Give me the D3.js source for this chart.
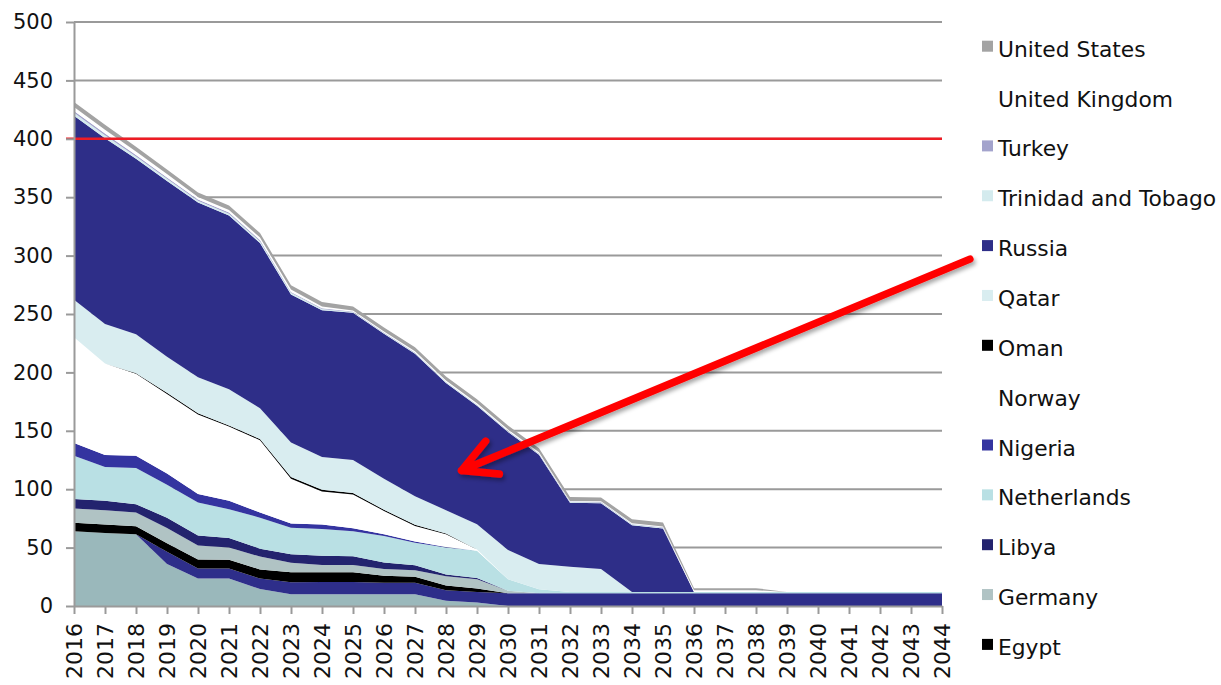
<!DOCTYPE html>
<meta charset="utf-8">
<head>
  <title>Stacked area by country</title>
</head>

<style>
  body { margin: 0; background: #fff; }
  text { font-family: "DejaVu Sans", Verdana, sans-serif; fill: #111; }
</style>

<body>
  <svg width="1221" height="685"></svg>

  <script src="https://cdn.jsdelivr.net/npm/d3@7"></script>
  <script>

var years = [2016, 2017, 2018, 2019, 2020, 2021, 2022, 2023, 2024, 2025, 2026, 2027, 2028, 2029, 2030,
             2031, 2032, 2033, 2034, 2035, 2036, 2037, 2038, 2039, 2040, 2041, 2042, 2043, 2044];

// two bottom series are cut off the legend in the original
var otherBottom = [64, 62.5, 61.5, 36, 23.5, 23.5, 14.5, 10, 10, 10, 10, 10, 4.5, 3, 0, 0, 0, 0, 0, 0, 0, 0, 0, 0, 0, 0, 0, 0, 0];
var otherSecond = [0, 0, 0, 10.5, 8.5, 8.5, 9, 10.3, 10.5, 10.5, 10, 10, 9, 9, 11, 11, 11, 11, 11, 11, 11, 11, 11, 11, 11, 11, 11, 11, 11];
var egypt       = [7.2, 7.3, 6.8, 7.3, 7.8, 7.5, 7.8, 8.7, 8.5, 8.5, 6, 5, 4, 3, 0, 0, 0, 0, 0, 0, 0, 0, 0, 0, 0, 0, 0, 0, 0];
var germany     = [12.2, 12.2, 11.7, 13, 12, 10.5, 11, 8, 6, 6, 5.6, 5.6, 8, 8, 2, 0, 0, 0, 0, 0, 0, 0, 0, 0, 0, 0, 0, 0, 0];
var libya       = [8.2, 8.1, 7.2, 8.7, 8.5, 8.2, 6.8, 7.3, 8, 7.7, 5.7, 4.2, 1.5, 1, 0, 0, 0, 0, 0, 0, 0, 0, 0, 0, 0, 0, 0, 0, 0];
var netherlands = [37, 29, 31, 28.3, 28.4, 24.6, 26.5, 22.6, 23, 21.3, 22.6, 19.4, 23, 23.2, 10, 3.3, 1, 1, 1, 1, 1, 1, 1, 1, 1, 1, 1, 1, 1];
var nigeria     = [11, 10.2, 10.5, 9.6, 7.2, 7.3, 4.4, 3.7, 3.7, 2.5, 1.5, 1, 0.5, 0, 0, 0, 0, 0, 0, 0, 0, 0, 0, 0, 0, 0, 0, 0, 0];
var norway      = [90.5, 78.3, 70.1, 68.2, 68.1, 63.5, 61.9, 38.4, 28.3, 29, 20, 13.4, 11, 1.2, 0, 0, 0, 0, 0, 0, 0, 0, 0, 0, 0, 0, 0, 0, 0];
var oman        = [0, 0, 0.5, 1, 1, 1, 1, 1.5, 1.5, 1.2, 1, 1, 0.5, 0, 0, 0, 0, 0, 0, 0, 0, 0, 0, 0, 0, 0, 0, 0, 0];
var qatar       = [32, 33.8, 33.3, 30.9, 30.9, 31, 26.5, 29.5, 28, 28.3, 26.6, 24.4, 20, 21.6, 25, 21.7, 21.6, 19.6, 0, 0, 0, 0, 0, 0, 0, 0, 0, 0, 0];
var russia      = [157.6, 159.1, 150.3, 150.3, 149.6, 148.7, 141.4, 126.6, 125.8, 126, 124, 122, 109, 101.5, 101, 93.5, 54.7, 56.4, 57.2, 54.4, 0, 0, 0, 0, 0, 0, 0, 0, 0];
var trinidad    = [2.5, 2.5, 2, 2, 1.5, 1.5, 1.5, 1.5, 1, 0.7, 0.7, 0.7, 0.7, 0.7, 0.7, 0.7, 0.7, 0.7, 0.7, 0.7, 0, 0, 0, 0, 0, 0, 0, 0, 0];
var turkey      = [1.5, 1.5, 1.2, 1, 1, 1, 1, 0.8, 0.6, 0.4, 0.4, 0.4, 0.4, 0.4, 0.4, 0.4, 0.4, 0.4, 0.4, 0.4, 0, 0, 0, 0, 0, 0, 0, 0, 0];
var uk          = [3.5, 3.3, 3, 3, 2.2, 2.2, 2.2, 2, 1.6, 1, 1, 1, 1, 1, 1, 1, 0.6, 0.6, 0.6, 0.6, 1.5, 1.5, 1.5, 0, 0, 0, 0, 0, 0];
var us          = [4.3, 4.2, 4, 4, 3.8, 3.8, 3.8, 3.7, 3.8, 3.4, 3.4, 3.4, 3.4, 3.4, 3.4, 3.4, 3.3, 3.3, 3.3, 3.3, 1.8, 1.8, 1.8, 0, 0, 0, 0, 0, 0];

var yTicks = [0, 50, 100, 150, 200, 250, 300, 350, 400, 450, 500];
var limitValue = 400;
var arrowFrom = [2044.9, 297];
var arrowTo = [2028.5, 116];

// bottom to top
var series = [
  {name: "otherBottom", values: otherBottom, color: "#9ab8bb", legend: false},
  {name: "otherSecond", values: otherSecond, color: "#2e2e8a", legend: false},
  {name: "Egypt", values: egypt, color: "#000000", legend: true},
  {name: "Germany", values: germany, color: "#b0c3c4", legend: true},
  {name: "Libya", values: libya, color: "#23236e", legend: true},
  {name: "Netherlands", values: netherlands, color: "#b9e0e4", legend: true},
  {name: "Nigeria", values: nigeria, color: "#3434a0", legend: true},
  {name: "Norway", values: norway, color: "#ffffff", legend: true},
  {name: "Oman", values: oman, color: "#000000", legend: true},
  {name: "Qatar", values: qatar, color: "#d9edf0", legend: true},
  {name: "Russia", values: russia, color: "#2e2e88", legend: true},
  {name: "Trinidad and Tobago", values: trinidad, color: "#d4ebee", legend: true},
  {name: "Turkey", values: turkey, color: "#a3a3cc", legend: true},
  {name: "United Kingdom", values: uk, color: "#ffffff", legend: true},
  {name: "United States", values: us, color: "#a3a3a3", legend: true}
];

var rows = years.map(function(yr, i){
  var row = {year: yr};
  series.forEach(function(s){ row[s.name] = s.values[i]; });
  return row;
});

var svg = d3.select("svg");

var x = d3.scaleLinear().domain([years[0], years[years.length-1]]).range([74, 942]);
var y = d3.scaleLinear().domain([0, 500]).range([606, 22]);

// gridlines
svg.append("g")
  .selectAll("line")
  .data(yTicks.filter(function(d){ return d > 0; }))
  .enter().append("line")
  .attr("x1", x.range()[0]).attr("x2", x.range()[1])
  .attr("y1", function(d){ return y(d); }).attr("y2", function(d){ return y(d); })
  .style("stroke", "#9a9a9a")
  .style("stroke-width", 2);

var stack = d3.stack().keys(series.map(function(s){ return s.name; }));
var layers = stack(rows);

var area = d3.area()
  .x(function(d){ return x(d.data.year); })
  .y0(function(d){ return y(d[0]); })
  .y1(function(d){ return y(d[1]); });

svg.append("g")
  .selectAll("path")
  .data(layers)
  .enter().append("path")
  .attr("d", area)
  .style("fill", function(d, i){ return series[i].color; })
  .style("stroke", "none");

// red limit line
svg.append("line")
  .attr("x1", 66).attr("x2", x.range()[1])
  .attr("y1", y(limitValue)).attr("y2", y(limitValue))
  .style("stroke", "#ee1c24")
  .style("stroke-width", 2.5);

// axes
var yAxis = svg.append("g")
  .attr("transform", "translate(" + x.range()[0] + ",0)")
  .call(d3.axisLeft(y).tickValues(yTicks).tickSizeInner(8).tickSizeOuter(0).tickPadding(13));

var xAxis = svg.append("g")
  .attr("transform", "translate(0," + y(0) + ")")
  .call(d3.axisBottom(x).tickValues(years).tickFormat(d3.format("d")).tickSizeInner(8).tickSizeOuter(0));

[yAxis, xAxis].forEach(function(g){
  g.select(".domain").style("stroke", "#9a9a9a").style("stroke-width", 2);
  g.selectAll(".tick line").style("stroke", "#9a9a9a").style("stroke-width", 2);
});

yAxis.selectAll("text")
  .style("font-size", "21px")
  .style("font-family", "DejaVu Sans")
  .attr("fill", "#111");

xAxis.selectAll("text")
  .attr("transform", "rotate(-90)")
  .attr("x", -17).attr("y", 0).attr("dy", "0.36em")
  .style("text-anchor", "end")
  .style("font-size", "22px")
  .style("font-family", "DejaVu Sans")
  .attr("fill", "#111");

// legend, top series first
var legendItems = series.filter(function(s){ return s.legend; }).reverse();
var legend = svg.append("g")
  .selectAll("g")
  .data(legendItems)
  .enter().append("g")
  .attr("transform", function(d, i){ return "translate(982," + (56.7 + i*49.85) + ")"; });

legend.append("rect")
  .attr("x", 0).attr("y", -16)
  .attr("width", 11).attr("height", 11)
  .style("fill", function(d){ return d.color; });

legend.append("text")
  .attr("x", 16).attr("y", 0)
  .style("font-size", "21.8px")
  .text(function(d){ return d.name; });

// arrow annotation
var defs = svg.append("defs");
var f = defs.append("filter").attr("id", "shadow").attr("x", "-20%").attr("y", "-20%").attr("width", "140%").attr("height", "140%");
f.append("feDropShadow").attr("dx", 2).attr("dy", 3).attr("stdDeviation", 2).attr("flood-color", "#000").attr("flood-opacity", 0.35);

var tip = [x(arrowTo[0]), y(arrowTo[1])];
var tail = [x(arrowFrom[0]), y(arrowFrom[1])];
var ang = Math.atan2(tail[1] - tip[1], tail[0] - tip[0]);
var headLen = 38, spread = 28 * Math.PI / 180;

var arrow = svg.append("g").attr("filter", "url(#shadow)");
arrow.append("path")
  .attr("d", "M" + tail[0] + "," + tail[1] + "L" + tip[0] + "," + tip[1] +
             "M" + (tip[0] + headLen*Math.cos(ang - spread)) + "," + (tip[1] + headLen*Math.sin(ang - spread)) +
             "L" + tip[0] + "," + tip[1] +
             "L" + (tip[0] + headLen*Math.cos(ang + spread)) + "," + (tip[1] + headLen*Math.sin(ang + spread)))
  .style("fill", "none")
  .style("stroke", "#ff0000")
  .style("stroke-width", 7.5)
  .style("stroke-linecap", "round")
  .style("stroke-linejoin", "round");

  </script>
</body>
</html>
